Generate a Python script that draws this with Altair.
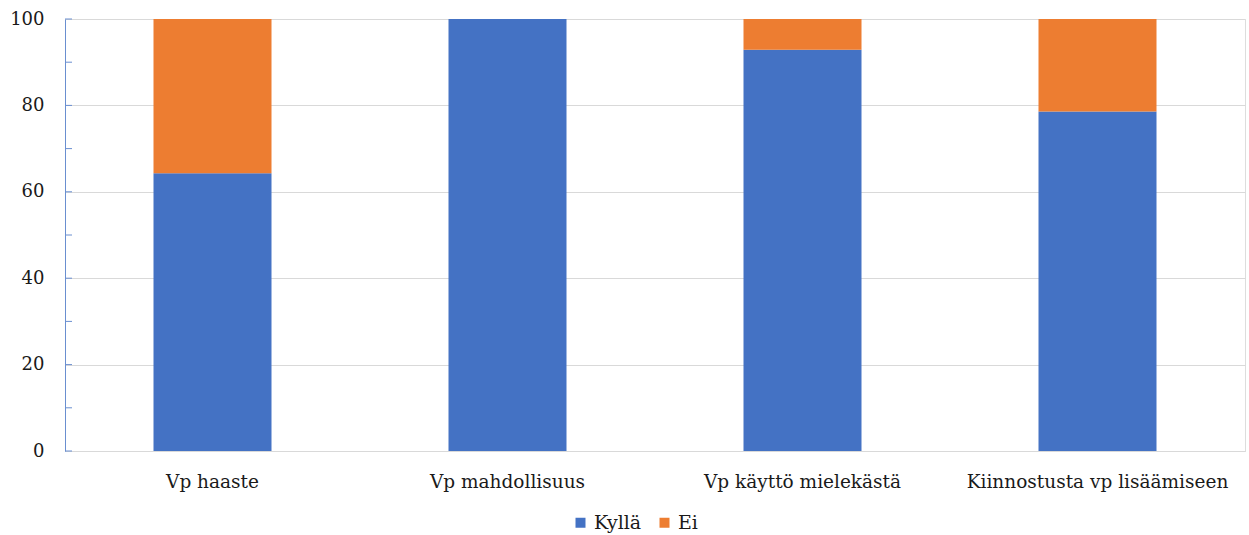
import altair as alt
import pandas as pd

categories = ["Vp haaste", "Vp mahdollisuus", "Vp käyttö mielekästä", "Kiinnostusta vp lisäämiseen"]
kylla = [64.3, 100.0, 92.9, 78.6]
ei = [35.7, 0.0, 7.1, 21.4]
series = ["Kyllä", "Ei"]
y_ticks = [0, 20, 40, 60, 80, 100]
minor_ticks = [0, 10, 20, 30, 40, 50, 60, 70, 80, 90, 100]

rows = []
for c, k, e in zip(categories, kylla, ei):
    rows.append({"cat": c, "series": "Kyllä", "value": k, "ord": 0})
    rows.append({"cat": c, "series": "Ei", "value": e, "ord": 1})
df = pd.DataFrame(rows)
ticks_df = pd.DataFrame({"t": minor_ticks})

FONT = "DejaVu Serif"
TEXT = "#1a1a1a"
AXISBLUE = "#6a8fd0"

bars = alt.Chart(df).mark_bar().encode(
    x=alt.X("cat:N", sort=categories,
            scale=alt.Scale(paddingInner=0.6, paddingOuter=0.3),
            axis=alt.Axis(title=None, labelAngle=0, ticks=False, domainColor="#d9d9d9",
                          labelFont=FONT, labelFontSize=18.5, labelColor=TEXT, labelPadding=21,
                          labelLimit=0)),
    y=alt.Y("value:Q", stack="zero", scale=alt.Scale(domain=[0, 100], nice=False),
            axis=alt.Axis(title=None, values=y_ticks, tickSize=0, labelPadding=21,
                          domainColor=AXISBLUE, gridColor="#d9d9d9",
                          labelFont=FONT, labelFontSize=18, labelColor=TEXT)),
    color=alt.Color("series:N", scale=alt.Scale(domain=series, range=["#4472C4", "#ED7D31"]),
                    legend=alt.Legend(title=None, orient="none", legendX=506, legendY=494,
                                      direction="horizontal", symbolType="square", symbolSize=100,
                                      symbolStrokeWidth=0, labelFont=FONT, labelFontSize=19,
                                      labelColor=TEXT, labelOffset=4, columnPadding=13, padding=0)),
    order=alt.Order("ord:Q"),
)

tick_marks = alt.Chart(ticks_df).mark_rule(color=AXISBLUE, strokeWidth=1).encode(
    y=alt.Y("t:Q"),
    x=alt.value(0),
    x2=alt.value(7),
)

chart = alt.layer(bars, tick_marks).properties(
    width=1180, height=432,
    autosize=alt.AutoSizeParams(type="none"),
    padding={"left": 65, "top": 19, "right": 4, "bottom": 84},
).configure_view(stroke=None).configure(background="white", font=FONT)

chart.save("out.html", embed_options={"renderer": "svg", "actions": False})
